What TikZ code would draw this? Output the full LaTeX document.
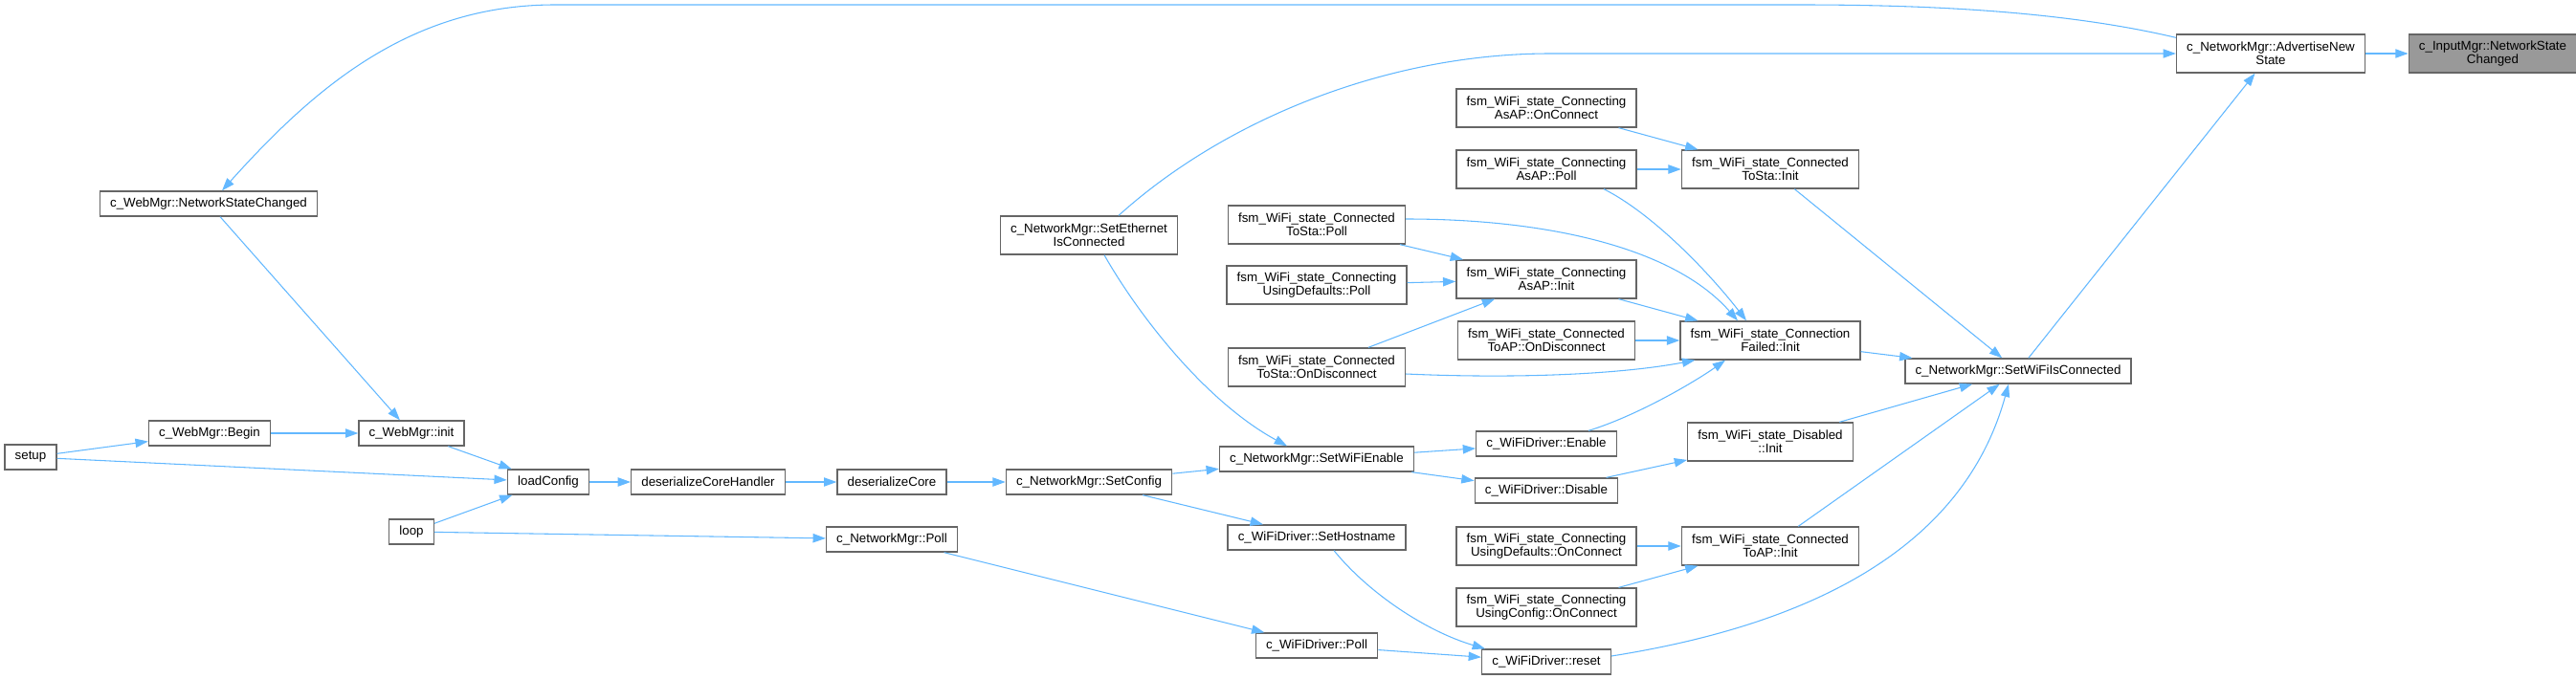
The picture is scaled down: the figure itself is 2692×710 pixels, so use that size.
\documentclass[tikz,border=0pt]{standalone}
\usepackage{fontspec}
\setmainfont{Liberation Sans}
\usetikzlibrary{arrows.meta,positioning,calc}
\definecolor{edgeblue}{HTML}{63B8FF}
\definecolor{boxgray}{HTML}{666666}
\definecolor{hlgray}{HTML}{999999}

\begin{document}
\begin{tikzpicture}[x=0.75pt,y=-0.75pt,>={Triangle[length=10pt,width=7pt]},
  fn/.style={draw=boxgray,line width=1pt,fill=white,font=\fontsize{10}{10.5}\selectfont,inner xsep=8pt,inner ysep=3pt,minimum height=19.5pt,align=center},
  fn2/.style={fn,minimum height=30pt},
  call/.style={->,draw=edgeblue,line width=0.8pt}]
\useasboundingbox (0,0) rectangle (2692,710);
\node[fn2,fill=hlgray] (inmgr) at (2605,56) {c\_InputMgr::NetworkState\\Changed};
\node[fn2] (adv) at (2373,56) {c\_NetworkMgr::AdvertiseNew\\State};
\node[fn] (webnsc) at (218,213) {c\_WebMgr::NetworkStateChanged};
\node[fn] (setwific) at (2109,388) {c\_NetworkMgr::SetWiFiIsConnected};
\node[fn2] (tostainit) at (1850,177) {fsm\_WiFi\_state\_Connected\\ToSta::Init};
\node[fn2] (failinit) at (1850,356) {fsm\_WiFi\_state\_Connection\\Failed::Init};
\node[fn2] (disinit) at (1850,462) {fsm\_WiFi\_state\_Disabled\\::Init};
\node[fn2] (toapinit) at (1850,571) {fsm\_WiFi\_state\_Connected\\ToAP::Init};
\node[fn2] (aponconn) at (1616,113) {fsm\_WiFi\_state\_Connecting\\AsAP::OnConnect};
\node[fn2] (appoll) at (1616,177) {fsm\_WiFi\_state\_Connecting\\AsAP::Poll};
\node[fn2] (apinit) at (1616,292) {fsm\_WiFi\_state\_Connecting\\AsAP::Init};
\node[fn2] (toapdisc) at (1616,356) {fsm\_WiFi\_state\_Connected\\ToAP::OnDisconnect};
\node[fn] (enable) at (1616,464) {c\_WiFiDriver::Enable};
\node[fn] (disable) at (1616,513) {c\_WiFiDriver::Disable};
\node[fn2] (defconn) at (1616,571) {fsm\_WiFi\_state\_Connecting\\UsingDefaults::OnConnect};
\node[fn2] (cfgconn) at (1616,635) {fsm\_WiFi\_state\_Connecting\\UsingConfig::OnConnect};
\node[fn] (reset) at (1616,692) {c\_WiFiDriver::reset};
\node[fn2] (seteth) at (1138,246) {c\_NetworkMgr::SetEthernet\\IsConnected};
\node[fn2] (tostapoll) at (1376,235) {fsm\_WiFi\_state\_Connected\\ToSta::Poll};
\node[fn2] (defpoll) at (1376,298) {fsm\_WiFi\_state\_Connecting\\UsingDefaults::Poll};
\node[fn2] (tostadisc) at (1376,384) {fsm\_WiFi\_state\_Connected\\ToSta::OnDisconnect};
\node[fn] (wifienable) at (1376,480) {c\_NetworkMgr::SetWiFiEnable};
\node[fn] (hostname) at (1376,562) {c\_WiFiDriver::SetHostname};
\node[fn] (drvpoll) at (1376,675) {c\_WiFiDriver::Poll};
\node[fn] (setconfig) at (1138,504) {c\_NetworkMgr::SetConfig};
\node[fn] (nmpoll) at (932,564) {c\_NetworkMgr::Poll};
\node[fn] (dcore) at (932,504) {deserializeCore};
\node[fn] (dcorehandler) at (740,504) {deserializeCoreHandler};
\node[fn] (loadconfig) at (573,504) {loadConfig};
\node[fn] (init) at (430,453) {c\_WebMgr::init};
\node[fn] (loop) at (430,556) {loop};
\node[fn] (begin) at (219,453) {c\_WebMgr::Begin};
\node[fn] (setup) at (32,478) {setup};
\draw[call] (adv) -- (inmgr);
\draw[call] ($(adv.north west)+(0,4)$) .. controls (2150,10) and (2000,5) .. (1880,5) -- (580,5) .. controls (430,5) and (330,90) .. ($(webnsc.north)+(14,0)$);
\draw[call] (webnsc) -- (init);
\draw[call] (setup) -- (begin);
\draw[call] (setup) -- (loadconfig);
\draw[call] (begin) -- (init);
\draw[call] (init) -- (loadconfig);
\draw[call] (loop) -- (loadconfig);
\draw[call] (loop) -- (nmpoll);
\draw[call] (loadconfig) -- (dcorehandler);
\draw[call] (dcorehandler) -- (dcore);
\draw[call] (dcore) -- (setconfig);
\draw[call] (setconfig) -- (wifienable);
\draw[call] (setconfig) -- (hostname);
\draw[call] ($(seteth.south)+(16,0)$) .. controls (1190,330) and (1260,420) .. ($(wifienable.north)+(-31,0)$);
\draw[call] ($(seteth.north)+(31,0)$) .. controls (1280,125) and (1450,56) .. (1620,56) -- (adv.west);
\draw[call] (wifienable) -- (enable);
\draw[call] (wifienable) -- (disable);
\draw[call] ($(enable.north)+(44,0)$) .. controls (1710,435) and (1770,400) .. ($(failinit.south)+(-47,0)$);
\draw[call] (disable) -- (disinit);
\draw[call] (disinit) -- (setwific);
\draw[call] (toapinit) -- (setwific);
\draw[call] ($(reset.east)+(0,-6)$) .. controls (1880,655) and (2050,580) .. ($(setwific.south)+(-10,0)$);
\draw[call] (failinit) -- (setwific);
\draw[call] (tostainit) -- (setwific);
\draw[call] (setwific) -- (adv);
\draw[call] (aponconn) -- (tostainit);
\draw[call] (appoll) -- (tostainit);
\draw[call] ($(appoll.south)+(60,0)$) .. controls (1730,225) and (1790,290) .. ($(failinit.north)+(-25,0)$);
\draw[call] ($(tostapoll.east)+(0,-6)$) .. controls (1620,229) and (1750,260) .. ($(failinit.north)+(-34,0)$);
\draw[call] (tostapoll) -- (apinit);
\draw[call] (defpoll) -- (apinit);
\draw[call] (tostadisc) -- (apinit);
\draw[call] ($(tostadisc.east)+(0,7)$) .. controls (1580,396) and (1690,392) .. ($(failinit.south west)+(16,0)$);
\draw[call] (apinit) -- (failinit);
\draw[call] (toapdisc) -- (failinit);
\draw[call] (defconn) -- (toapinit);
\draw[call] (cfgconn) -- (toapinit);
\draw[call] ($(hostname.south)+(18,0)$) .. controls (1430,620) and (1490,660) .. ($(reset.north west)+(4,0)$);
\draw[call] (nmpoll) -- (drvpoll);
\draw[call] (drvpoll) -- (reset);
\end{tikzpicture}
\end{document}
